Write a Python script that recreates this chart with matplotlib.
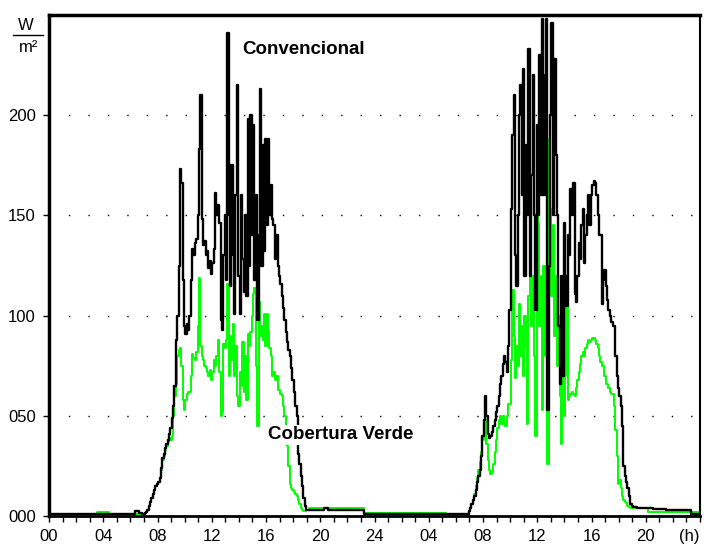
import numpy as np
import matplotlib
matplotlib.use("Agg")
import matplotlib.pyplot as plt

plt.rcParams["font.family"] = ["Liberation Sans", "DejaVu Sans"]

# ---- Daytime readings, one every 0.1 h -------------------------------------
day1_hours = np.round(np.arange(7.0, 19.0001, 0.1), 1)    # 07:00 .. 19:00
day2_hours = np.round(np.arange(30.8, 43.2001, 0.1), 1)   # 06:48 .. 19:12 (day 2)

conv_day1 = [
    1, 1.5, 2, 3, 5, 7, 9, 11, 13, 15,
    16, 17, 19, 24, 29, 31, 34, 36, 38, 41,
    44, 49, 55, 65, 88, 100, 125, 173, 166, 118,
    95, 91, 96, 93, 100, 118, 133, 130, 136, 138,
    150, 183, 210, 148, 135, 137, 130, 132, 124, 127,
    121, 126, 133, 161, 150, 155, 146, 98, 93, 130,
    150, 118, 241, 150, 115, 175, 130, 101, 160, 215,
    120, 101, 160, 128, 112, 150, 110, 198, 125, 200,
    140, 195, 118, 160, 98, 140, 213, 125, 185, 132,
    188, 145, 188, 150, 165, 148, 145, 128, 140, 125,
    120, 116, 110, 104, 98, 92, 87, 83, 80, 74,
    68, 62, 55, 50, 31, 26, 20, 15, 9, 5,
    3,
]

verde_day1 = [
    1, 1.5, 2, 3, 5, 7, 9, 11, 13, 15,
    16, 17, 19, 23, 28, 30, 33, 35, 37, 39,
    38, 40, 50, 60, 66, 80, 83, 84, 75, 58,
    53, 58, 61, 62, 62, 70, 81, 79, 78, 82,
    95, 119, 85, 80, 78, 75, 74, 72, 70, 73,
    68, 72, 78, 75, 80, 88, 72, 50, 52, 86,
    84, 88, 116, 70, 90, 78, 96, 70, 85, 60,
    55, 72, 65, 87, 62, 80, 58, 91, 85, 92,
    100, 111, 114, 75, 45, 107, 90, 95, 88, 101,
    85, 101, 92, 84, 80, 70, 72, 68, 70, 63,
    63, 61, 60, 55, 50, 42, 35, 25, 16, 14,
    13, 12, 11, 10, 8, 6, 4, 3, 2.5, 2.5,
    3,
]

conv_day2 = [
    0.8, 1, 2.5, 4, 6, 8, 10, 13, 17, 20,
    23, 30, 40, 48, 60, 50, 41, 39, 40, 42,
    45, 48, 52, 55, 60, 66, 70, 76, 80, 77,
    72, 85, 103, 153, 190, 210, 130, 115, 150, 200,
    215, 160, 223, 120, 185, 150, 233, 120, 170, 220,
    150, 103, 195, 150, 230, 160, 248, 160, 220, 248,
    53, 125, 200, 246, 150, 228, 180, 150, 95, 66,
    120, 70, 146, 120, 105, 140, 130, 163, 150, 166,
    111, 107, 120, 136, 128, 145, 153, 126, 140, 150,
    160, 145, 160, 165, 167, 166, 160, 150, 140, 140,
    106, 118, 123, 115, 108, 103, 100, 97, 95, 95,
    80, 70, 64, 60, 55, 45, 25, 20, 17, 14,
    10, 6, 5, 4.5, 4.5,
]

verde_day2 = [
    0.8, 1, 2.5, 4, 6, 8, 11, 15, 19, 23,
    27, 32, 38, 45, 48, 36, 28, 23, 21, 22,
    26, 32, 38, 44, 48, 50, 46, 50, 47, 45,
    50, 56, 56, 78, 113, 90, 69, 85, 75, 106,
    80, 95, 70, 100, 85, 46, 110, 140, 95, 120,
    80, 40, 150, 146, 95, 120, 53, 125, 80, 100,
    26, 188, 153, 110, 145, 90, 120, 75, 100, 60,
    36, 80, 50, 70, 105, 58, 60, 61, 62, 61,
    60, 64, 68, 72, 76, 80, 82, 80, 84, 86,
    88, 87, 88, 89, 89, 88, 86, 84, 80, 77,
    75, 75, 70, 66, 66, 64, 62, 61, 61, 55,
    43, 30, 16, 18, 14, 10, 8, 7, 6.5, 5,
    4.5, 4, 3.8, 3.8, 3.8,
]

# ---- Night-time readings (sparser) -----------------------------------------
conv_night1_hours = [0.0, 5.0, 6.2, 6.5, 6.8, 6.9]
conv_night1 = [1, 1, 1, 2.5, 1.5, 1]
conv_night2_hours = [19.3, 20.0, 20.5, 20.7, 21.0, 22.0, 23.1, 23.3, 25.0, 28.0, 30.6]
conv_night2 = [3, 3, 4, 3, 3, 3, 3, 1.2, 1, 1, 0.8]
conv_night3_hours = [43.5, 44.0, 45.0, 46.0, 47.2, 47.4, 48.0]
conv_night3 = [4, 4, 3.5, 3, 3, 1, 1]

verde_night1_hours = [0.0, 3.5, 3.6, 4.4, 4.5, 6.9]
verde_night1 = [0.8, 0.8, 1.8, 1.8, 0.8, 0.8]
verde_night2_hours = [19.3, 20.0, 21.0, 22.0, 23.1, 23.3, 25.0, 28.0, 30.6]
verde_night2 = [3.8, 3.8, 4, 3.8, 3.8, 1.6, 1.5, 1.5, 0.8]
verde_night3_hours = [43.5, 44.0, 44.3, 46.0, 48.0]
verde_night3 = [3.8, 3.8, 2, 2, 2]

y_ticks = [0, 50, 100, 150, 200]
y_tick_labels = ["000", "050", "100", "150", "200"]
x_ticks = list(range(0, 49, 4))
x_tick_labels = ["00", "04", "08", "12", "16", "20", "24",
                 "04", "08", "12", "16", "20", "(h)"]

conv_hours = np.concatenate([conv_night1_hours, day1_hours, conv_night2_hours,
                             day2_hours, conv_night3_hours])
conv_vals = np.concatenate([conv_night1, conv_day1, conv_night2,
                            conv_day2, conv_night3])
verde_hours = np.concatenate([verde_night1_hours, day1_hours, verde_night2_hours,
                              day2_hours, verde_night3_hours])
verde_vals = np.concatenate([verde_night1, verde_day1, verde_night2,
                             verde_day2, verde_night3])

# ---- Figure ------------------------------------------------------------------
fig = plt.figure(figsize=(7.04, 5.47), dpi=100)
ax = fig.add_axes([49 / 704, 1 - 516 / 547, 651 / 704, 501 / 547])

ax.plot(verde_hours, verde_vals, color="#00ff00", lw=1.4, zorder=2,
        drawstyle="steps-mid")
ax.plot(conv_hours, conv_vals, color="black", lw=1.7, zorder=3,
        drawstyle="steps-mid")

ax.set_xlim(0, 48)
ax.set_ylim(0, 250)

for v in y_ticks[1:]:
    ax.axhline(v, color="black", lw=1.0, linestyle=(0, (1, 13)), zorder=1)

ax.set_yticks(y_ticks)
ax.set_yticklabels(y_tick_labels)
ax.set_xticks(x_ticks)
ax.set_xticklabels(x_tick_labels)
ax.get_xticklabels()[-1].set_horizontalalignment("right")
ax.set_xticks(range(0, 49), minor=True)
ax.tick_params(axis="both", which="both", direction="out", length=4.5,
               width=1.0, labelsize=12, pad=5)

for side, lw in (("left", 2.5), ("top", 2.5), ("bottom", 2.0), ("right", 1.5)):
    ax.spines[side].set_linewidth(lw)
    ax.spines[side].set_color("black")

ax.text(14.24, 233, "Convencional", fontsize=13.5, fontweight="bold",
        va="center", ha="left", zorder=5,
        bbox=dict(facecolor="white", edgecolor="none", pad=1))
ax.text(16.16, 40.5, "Cobertura Verde", fontsize=13.5, fontweight="bold",
        va="center", ha="left", zorder=5,
        bbox=dict(facecolor="white", edgecolor="none", pad=1))

# Unit label W / m² in the top-left corner
fig.text(25.5 / 704, 1 - 25 / 547, "W", fontsize=12, ha="center", va="center")
fig.add_artist(plt.Line2D([13 / 704, 43 / 704], [1 - 35 / 547, 1 - 35 / 547],
                          color="black", lw=1.0, transform=fig.transFigure))
fig.text(29 / 704, 1 - 48 / 547, "m²", fontsize=12, ha="center", va="center")

fig.savefig("out.png", dpi=100)
